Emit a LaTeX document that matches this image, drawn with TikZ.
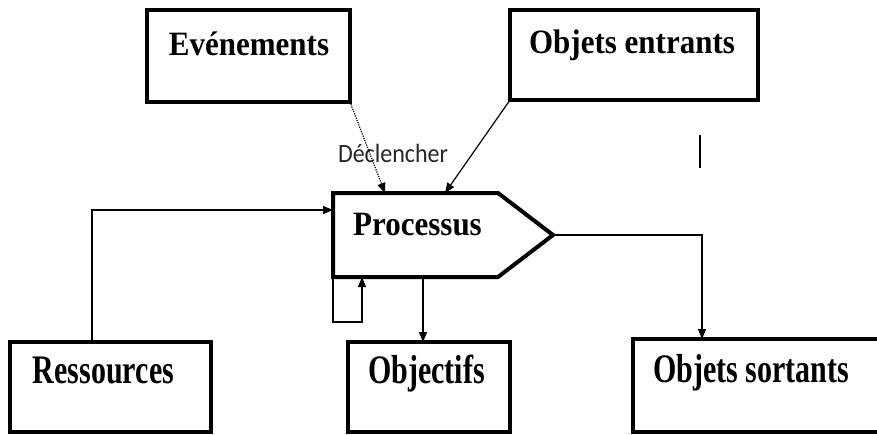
\documentclass[tikz,border=0pt]{standalone}
\usepackage{fontspec}
\usepackage{graphicx}
\setmainfont{Liberation Serif}
\newfontfamily\carl{Carlito}
\usetikzlibrary{calc,arrows.meta}
\begin{document}
\begin{tikzpicture}[x=1pt,y=-1pt,
  box/.style={draw,line width=4pt,outer sep=0pt,inner sep=0pt},
  toptxt/.style={anchor=base,inner sep=0pt,font=\fontsize{31}{31}\selectfont\bfseries},
  bottxt/.style={anchor=base,inner sep=0pt,font=\fontsize{30}{30}\selectfont\bfseries},
  conn/.style={line width=1.2pt,-{Triangle[length=10pt,width=8pt]}},
  plain/.style={line width=1.2pt}]
\useasboundingbox (0,0) rectangle (877,434);
% boxes
\node[box,minimum width=203pt,minimum height=92pt] (ev) at (248.5,56) {};
\node[box,minimum width=248pt,minimum height=90pt] (oe) at (634,55) {};
\node[box,minimum width=201pt,minimum height=90pt] (res) at (110.5,387) {};
\node[box,minimum width=162pt,minimum height=90pt] (obj) at (429,387) {};
\node[box,minimum width=252pt,minimum height=93pt] (os) at (759,385.5) {};
% processus shape
\node[inner sep=0pt,outer sep=0pt,minimum width=220pt,minimum height=84pt] (proc) at (443,235) {};
\draw[line width=4pt,line join=miter] (proc.north west) -- ($(proc.north east)+(-55,0)$) -- (proc.east)
  -- ($(proc.south east)+(-55,0)$) -- (proc.south west) -- cycle;
% texts
\node[toptxt] (evt) at (249,55) {\scalebox{1}[1.1]{Evénements}};
\node[toptxt] (oet) at (632,53) {\scalebox{1}[1.1]{Objets entrants}};
\node[toptxt] (proct) at (417.5,235) {\scalebox{1}[1.1]{Processus}};
\node[bottxt] (rest) at (103.5,383) {\scalebox{1}[1.35]{Ressources}};
\node[bottxt] (objt) at (426.5,383) {\scalebox{1}[1.35]{Objectifs}};
\node[bottxt] (ost) at (751,382) {\scalebox{1}[1.35]{Objets sortants}};
\node[anchor=base,inner sep=0pt,text=black!85,font=\carl\fontsize{24}{24}\selectfont] (decl) at (393,162) {\scalebox{1}[1.1]{Déclencher}};
% connectors
\draw[conn,dash pattern=on 1.2pt off 1.2pt] (ev.south east) -- ($(proc.north west)+(52,0)$);
\draw[conn] (oe.south west) -- ($(proc.north west)+(112,0)$);
\coordinate (resup) at ($(res.north west)+(82,0)$);
\draw[conn] (resup) |- ($(proc.north west)+(0,17)$);
\coordinate (loopA) at ($(proc.south west)+(0,45)$);
\draw[conn] (proc.south west) -- (loopA) -| ($(proc.south west)+(29,0)$);
\draw[conn] ($(proc.south west)+(90,0)$) -- ($(obj.north west)+(75,0)$);
\draw[conn] (proc.east) -| ($(os.north west)+(69,0)$);
% stray bar
\coordinate (barA) at (700,135);
\coordinate (barB) at (700,168);
\draw[line width=2.5pt] (barA) -- (barB);
\end{tikzpicture}
\end{document}
